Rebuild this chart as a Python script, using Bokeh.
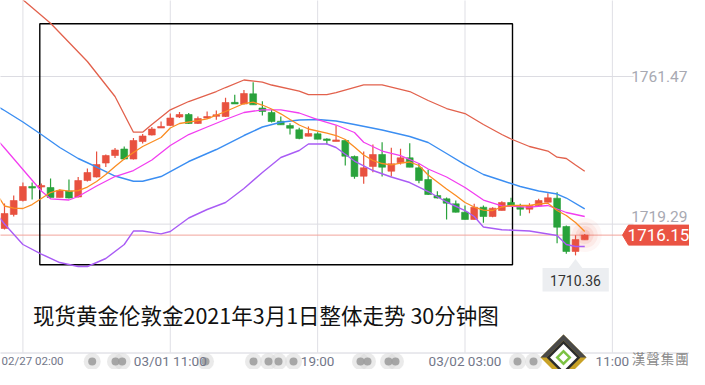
from bokeh.plotting import figure
from bokeh.models import Range1d
from bokeh.embed import file_html
from bokeh.resources import INLINE
from bokeh.core.properties import value

# ---------------- data (30-minute candles, spot gold) ----------------
open_ = [1718.04, 1722.04, 1726.04, 1730.04, 1730.04, 1729.75, 1726.89, 1728.75, 1727.04, 1731.75,
         1732.75, 1736.75, 1738.89, 1740.75, 1737.89, 1742.89, 1744.75, 1746.75, 1747.47, 1749.89,
         1750.61, 1748.04, 1749.67, 1750.12, 1750.04, 1754.04, 1753.61, 1756.52, 1752.47, 1751.18,
         1748.69, 1747.47, 1746.24, 1744.41, 1745.09, 1743.55, 1742.98, 1743.18, 1738.61, 1732.98,
         1735.75, 1739.18, 1734.41, 1736.81, 1738.24, 1735.38, 1732.04, 1727.47, 1726.52, 1725.09,
         1722.69, 1720.61, 1724.12, 1721.47, 1723.18, 1725.47, 1724.12, 1723.55, 1724.52, 1725.55,
         1726.69, 1718.61, 1711.47, 1714.81]
high = [1725.18, 1727.47, 1731.18, 1731.18, 1730.89, 1732.32, 1729.18, 1732.04, 1732.75, 1735.18,
        1740.04, 1739.18, 1741.04, 1741.47, 1743.89, 1745.04, 1747.04, 1748.61, 1750.89, 1751.32,
        1751.04, 1750.04, 1751.47, 1751.75, 1755.38, 1756.24, 1757.61, 1759.84, 1754.41, 1751.95,
        1750.04, 1748.12, 1746.81, 1747.18, 1745.55, 1743.84, 1747.47, 1743.47, 1738.89, 1740.04,
        1742.04, 1742.69, 1741.09, 1740.81, 1742.41, 1736.69, 1734.81, 1728.69, 1726.89, 1726.04,
        1724.61, 1725.09, 1724.61, 1724.12, 1725.84, 1726.81, 1725.09, 1725.27, 1726.52, 1728.12,
        1728.41, 1718.89, 1716.12, 1716.45]
low = [1717.75, 1721.47, 1725.75, 1726.32, 1728.89, 1726.89, 1726.89, 1726.61, 1726.89, 1731.47,
       1732.61, 1735.61, 1738.18, 1737.75, 1737.75, 1742.32, 1744.61, 1746.75, 1747.32, 1749.61,
       1747.89, 1747.89, 1749.38, 1749.09, 1749.89, 1753.61, 1753.47, 1753.38, 1750.32, 1748.32,
       1747.67, 1744.89, 1743.55, 1744.41, 1743.55, 1742.04, 1742.98, 1736.04, 1732.24, 1730.81,
       1734.12, 1732.89, 1732.89, 1736.32, 1735.55, 1730.98, 1727.61, 1726.61, 1720.61, 1722.61,
       1720.61, 1720.61, 1719.67, 1721.27, 1723.18, 1724.52, 1721.67, 1722.41, 1724.32, 1725.47,
       1713.84, 1710.81, 1710.36, 1714.81]
close = [1722.32, 1726.04, 1730.04, 1729.61, 1730.18, 1726.89, 1728.89, 1726.75, 1731.75, 1734.04,
         1736.32, 1738.89, 1740.47, 1737.89, 1743.18, 1744.47, 1746.47, 1747.18, 1749.61, 1750.61,
         1748.04, 1749.47, 1749.95, 1750.52, 1754.04, 1753.67, 1756.61, 1753.38, 1751.47, 1748.61,
         1747.67, 1746.69, 1743.75, 1745.18, 1743.55, 1743.27, 1743.27, 1738.69, 1732.89, 1735.38,
         1739.18, 1735.55, 1736.52, 1738.24, 1735.55, 1731.75, 1727.75, 1726.75, 1725.27, 1722.69,
         1720.61, 1724.12, 1721.47, 1723.84, 1725.47, 1724.52, 1723.55, 1724.61, 1726.04, 1726.81,
         1718.41, 1711.47, 1714.89, 1716.15]

# indicator lines (candle index, price)
upper_idx = [-1, 2, 5, 9, 12, 14, 15, 16, 18, 20, 23, 24, 26, 28, 29, 32, 33, 35, 36, 39, 41, 44,
             46, 48, 50, 52, 54, 55, 57, 59, 60, 61, 62, 63]
upper_val = [1790.32, 1783.4, 1776.69, 1765.75, 1755.75, 1745.55, 1745.55, 1747.75, 1751.95, 1754.32,
             1757.18, 1758.32, 1760.47, 1759.84, 1759.04, 1757.32, 1756.32, 1756.32, 1756.89, 1759.09,
             1759.09, 1757.18, 1754.61, 1752.32, 1750.89, 1747.75, 1744.89, 1743.61, 1741.47, 1740.18,
             1738.41, 1738.04, 1736.18, 1734.41]
lower_idx = [-1, 0, 2, 4, 6, 8, 9, 11, 13, 14, 15, 17, 18, 20, 22, 24, 26, 28, 30, 32, 33, 35, 36,
             38, 40, 42, 44, 46, 48, 50, 51, 52, 54, 57, 60, 61, 62, 63]
lower_val = [1722.67, 1719.32, 1713.47, 1710.75, 1708.32, 1707.18, 1707.18, 1709.47, 1713.47, 1717.32,
             1717.32, 1716.52, 1717.18, 1721.04, 1723.47, 1725.47, 1729.47, 1734.04, 1738.32, 1740.32,
             1742.18, 1742.18, 1741.18, 1737.32, 1734.61, 1732.75, 1731.18, 1728.61, 1725.61, 1723.18,
             1721.47, 1718.47, 1717.67, 1717.32, 1716.04, 1713.47, 1712.89, 1712.89]
mid_idx = [-1, 0, 2, 4, 6, 8, 10, 12, 14, 15, 17, 20, 23, 26, 28, 30, 32, 34, 36, 38, 41, 44, 46,
           48, 50, 52, 54, 56, 58, 60, 61, 63]
mid_val = [1753.32, 1751.75, 1748.47, 1744.89, 1741.18, 1738.04, 1735.61, 1733.04, 1731.55, 1731.55,
           1732.89, 1737.18, 1740.61, 1744.61, 1747.04, 1748.41, 1749.04, 1749.18, 1748.75, 1747.75,
           1746.18, 1744.32, 1742.61, 1739.47, 1736.32, 1733.47, 1731.75, 1730.04, 1728.75, 1727.89,
           1726.75, 1723.67]
ma10_idx = [-1, 0, 2, 4, 5, 7, 8, 10, 12, 14, 16, 18, 20, 22, 24, 26, 28, 30, 32, 34, 36, 38, 39,
            41, 43, 45, 46, 48, 50, 52, 54, 57, 59, 61, 63]
ma10_val = [1744.04, 1741.04, 1734.89, 1728.75, 1726.52, 1726.18, 1727.18, 1730.18, 1732.89, 1734.61,
            1737.61, 1741.75, 1744.89, 1747.04, 1749.18, 1751.18, 1751.95, 1751.95, 1751.04, 1749.18,
            1747.61, 1745.47, 1742.69, 1740.18, 1738.89, 1736.61, 1735.04, 1732.75, 1729.75, 1726.18,
            1724.52, 1724.12, 1724.61, 1722.61, 1721.47]
ma5_idx = [-1, 0, 1, 2, 3, 4, 5, 6, 7, 8, 9, 10, 11, 12, 13, 14, 15, 17, 18, 19, 21, 22, 24, 26,
           27, 28, 29, 30, 31, 32, 33, 35, 36, 37, 38, 39, 40, 41, 42, 43, 44, 45, 46, 47, 48, 49,
           50, 51, 52, 53, 54, 55, 57, 58, 59, 60, 61, 62, 63]
ma5_val = [1728.61, 1724.47, 1723.84, 1723.75, 1724.89, 1726.61, 1728.32, 1729.09, 1728.69, 1728.89,
           1729.89, 1731.47, 1733.47, 1735.75, 1737.89, 1739.75, 1741.47, 1744.04, 1746.75, 1748.04,
           1748.89, 1749.38, 1751.47, 1753.75, 1754.12, 1753.32, 1752.18, 1750.81, 1749.18, 1747.61,
           1746.47, 1745.27, 1744.61, 1743.47, 1741.32, 1739.04, 1737.47, 1736.61, 1736.24, 1736.75,
           1737.04, 1736.04, 1733.32, 1731.32, 1729.32, 1727.47, 1725.47, 1724.18, 1723.32, 1723.18,
           1724.18, 1724.61, 1724.61, 1725.04, 1725.27, 1723.18, 1721.75, 1719.75, 1717.18]

# axis labels
time_tick_idx = [2, 18, 34, 50, 66]
time_tick_labels = ["02/27 02:00", "03/01 11:00", "19:00", "03/02 03:00", "11:00"]
price_ticks = [1761.47, 1719.29]
price_tick_labels = ["1761.47", "1719.29"]
title_text = "现货黄金伦敦金2021年3月1日整体走势  30分钟图"
brand_chars = ["漢", "聲", "集", "團"]

# ---------------- layout helpers (reference pixels <-> data) ----------------
X0, DX = 4.0, 9.21                 # pixel x of candle 0, pixels per candle
PY_REF, PRICE_REF, PPP = 76.0, 1761.47, 3.5   # pixel y of price ref, pixels per price unit
W, H = 689, 369


def xd(px):
    return (px - X0) / DX


def yd(py):
    return PRICE_REF - (py - PY_REF) / PPP


def px_of(i):
    return X0 + DX * i


def py_of(price):
    return PY_REF + (PRICE_REF - price) * PPP


RED = "#e8513f"
GREEN = "#29a23b"

p = figure(width=W, height=H,
           x_range=Range1d(xd(0), xd(W)), y_range=Range1d(yd(H), yd(0)),
           output_backend="svg", toolbar_location=None, min_border=0,
           x_axis_location=None, y_axis_location=None, title=None,
           outline_line_color=None, background_fill_color="white",
           border_fill_color="white")
p.grid.visible = False

# ---- grid lines ----
p.segment(x0=time_tick_idx, y0=[yd(-5)] * len(time_tick_idx),
          x1=time_tick_idx, y1=[yd(352)] * len(time_tick_idx),
          line_color="#dfdfe5", line_width=1)
p.segment(x0=[xd(-10)] * len(price_ticks), y0=price_ticks,
          x1=[xd(633)] * len(price_ticks), y1=price_ticks,
          line_color="#dcdce2", line_width=1)
# bottom axis line
p.segment(x0=[xd(-10)], y0=[yd(352.5)], x1=[xd(720)], y1=[yd(352.5)],
          line_color="#d4d4dc", line_width=1)

# ---- price tick labels (the lower one sits just above the current-price tag) ----
label_py = [py_of(price_ticks[0]), py_of(price_ticks[1]) - 7.5]
p.text(x=[xd(687)] * len(price_ticks), y=[yd(v) for v in label_py], text=price_tick_labels,
       text_align="right", text_baseline="middle",
       text_font=value("Roboto"), text_font_size=value("15.5px"), text_color="#a8a9b2")

# ---- current price line ----
last = len(close) - 1
cur = close[last]
tip_px = 622.0
p.segment(x0=[xd(-10)], y0=[cur], x1=[xd(tip_px)], y1=[cur],
          line_color="#f2a49c", line_width=1)

# ---- highlight rectangle ----
p.quad(left=[xd(39.3)], right=[xd(512)], top=[yd(23.3)], bottom=[yd(264.2)],
       fill_color=None, line_color="black", line_width=1.4)

# ---- candles ----
idx = list(range(len(open_)))
cols = [RED if c >= o else GREEN for o, c in zip(open_, close)]
tops, bots = [], []
for o, c in zip(open_, close):
    t, b = max(o, c), min(o, c)
    if t - b < 0.45:
        m = (t + b) / 2
        t, b = m + 0.225, m - 0.225
    tops.append(t)
    bots.append(b)

# glow behind last candle
for s, a in [(34, 0.05), (26, 0.07), (18, 0.10), (11, 0.14)]:
    p.scatter(x=[last], y=[cur], size=s, fill_color=RED, fill_alpha=a, line_color=None)

p.segment(x0=idx, y0=high, x1=idx, y1=low, line_color=cols, line_width=1.2)
p.vbar(x=idx, width=0.74, top=tops, bottom=bots, fill_color=cols, line_color=cols, line_width=0.6)

# ---- indicator lines ----
p.line(upper_idx, upper_val, line_color="#e2614c", line_width=1.3)
p.line(lower_idx, lower_val, line_color="#a95cf5", line_width=1.4)
p.line(mid_idx, mid_val, line_color="#3b8ef2", line_width=1.4)
p.line(ma10_idx, ma10_val, line_color="#f23ef0", line_width=1.3)
p.line(ma5_idx, ma5_val, line_color="#fb8d22", line_width=1.3)

# ---- current price tag ----
cy = py_of(cur)
tag_x = [tip_px, 628.0, 720, 720, 628.0]
tag_y = [cy, cy - 10, cy - 10, cy + 10, cy + 10]
p.patch(x=[xd(v) for v in tag_x], y=[yd(v) for v in tag_y],
        fill_color="#ea5343", line_color="#ea5343")
p.text(x=[xd(658)], y=[cur], text=["%.2f" % cur], text_align="center",
       text_baseline="middle", text_font=value("Roboto"),
       text_font_size=value("17px"), text_color="white")

# ---- lowest price label ----
i_low = min(range(len(low)), key=lambda i: low[i])
lx, ly = px_of(i_low), py_of(low[i_low])
p.quad(left=[xd(lx - 33)], right=[xd(lx + 33.3)], top=[yd(ly + 12.7)], bottom=[yd(ly + 36)],
       fill_color="#eceef1", line_color=None)
p.patch(x=[xd(lx - 7), xd(lx + 7), xd(lx)], y=[yd(ly + 12.8), yd(ly + 12.8), yd(ly + 3.5)],
        fill_color="#eceef1", line_color=None)
p.text(x=[xd(lx)], y=[yd(ly + 25)], text=["%.2f" % low[i_low]], text_align="center",
       text_baseline="middle", text_font=value("Roboto"),
       text_font_size=value("14px"), text_color="#333333")

# ---- title ----
p.text(x=[xd(32.5)], y=[yd(313.5)], text=[title_text], text_align="left",
       text_baseline="middle", text_font=value("Noto Sans CJK SC"),
       text_font_size=value("21.5px"), text_color="#111111")

# blurred dots on the axis strip (drawn under the labels)
blob_px = [91.7, 115, 121.7, 205, 253, 268, 278, 293, 360, 367, 388, 395, 517, 533]
p.scatter(x=[xd(v) for v in blob_px], y=[yd(361)] * len(blob_px), size=17,
          fill_color="#d9d9d9", fill_alpha=0.55, line_color=None)
p.scatter(x=[xd(v) for v in blob_px], y=[yd(361)] * len(blob_px), size=8,
          fill_color="#9a9a9a", fill_alpha=0.85, line_color=None)

# ---- time axis labels ----
p.text(x=[xd(1)], y=[yd(360)], text=[time_tick_labels[0]],
       text_align="left", text_baseline="middle", text_font=value("Roboto"),
       text_font_size=value("11.5px"), text_color="#737789")
p.text(x=time_tick_idx[1:], y=[yd(360)] * (len(time_tick_idx) - 1), text=time_tick_labels[1:],
       text_align="center", text_baseline="middle", text_font=value("Roboto"),
       text_font_size=value("13.5px"), text_color="#737789")

# ---- logo ----
cx, cyl = 563.0, 357.0


def diamond(h, color):
    p.patch(x=[xd(cx), xd(cx + h), xd(cx), xd(cx - h)],
            y=[yd(cyl - h), yd(cyl), yd(cyl + h), yd(cyl)],
            fill_color=color, line_color=None)


diamond(23, "#c9a227")
p.patch(x=[xd(cx - 23), xd(cx), xd(cx + 23), xd(cx + 17), xd(cx), xd(cx - 17)],
        y=[yd(cyl), yd(cyl - 23), yd(cyl), yd(cyl), yd(cyl - 17), yd(cyl)],
        fill_color="#4a4a4a", line_color=None)
diamond(17, "#2c2c2c")
diamond(13.5, "#ffffff")
diamond(8, "#7cc242")
diamond(4.5, "#ffffff")

p.text(x=[xd(v) for v in [638.0, 652.5, 667.0, 681.5]], y=[yd(357)] * 4, text=brand_chars,
       text_align="center", text_baseline="middle", text_font=value("Noto Sans CJK TC"),
       text_font_size=value("13.5px"), text_color="#8a8a8a")

open("out.html", "w").write(file_html(p, INLINE))
